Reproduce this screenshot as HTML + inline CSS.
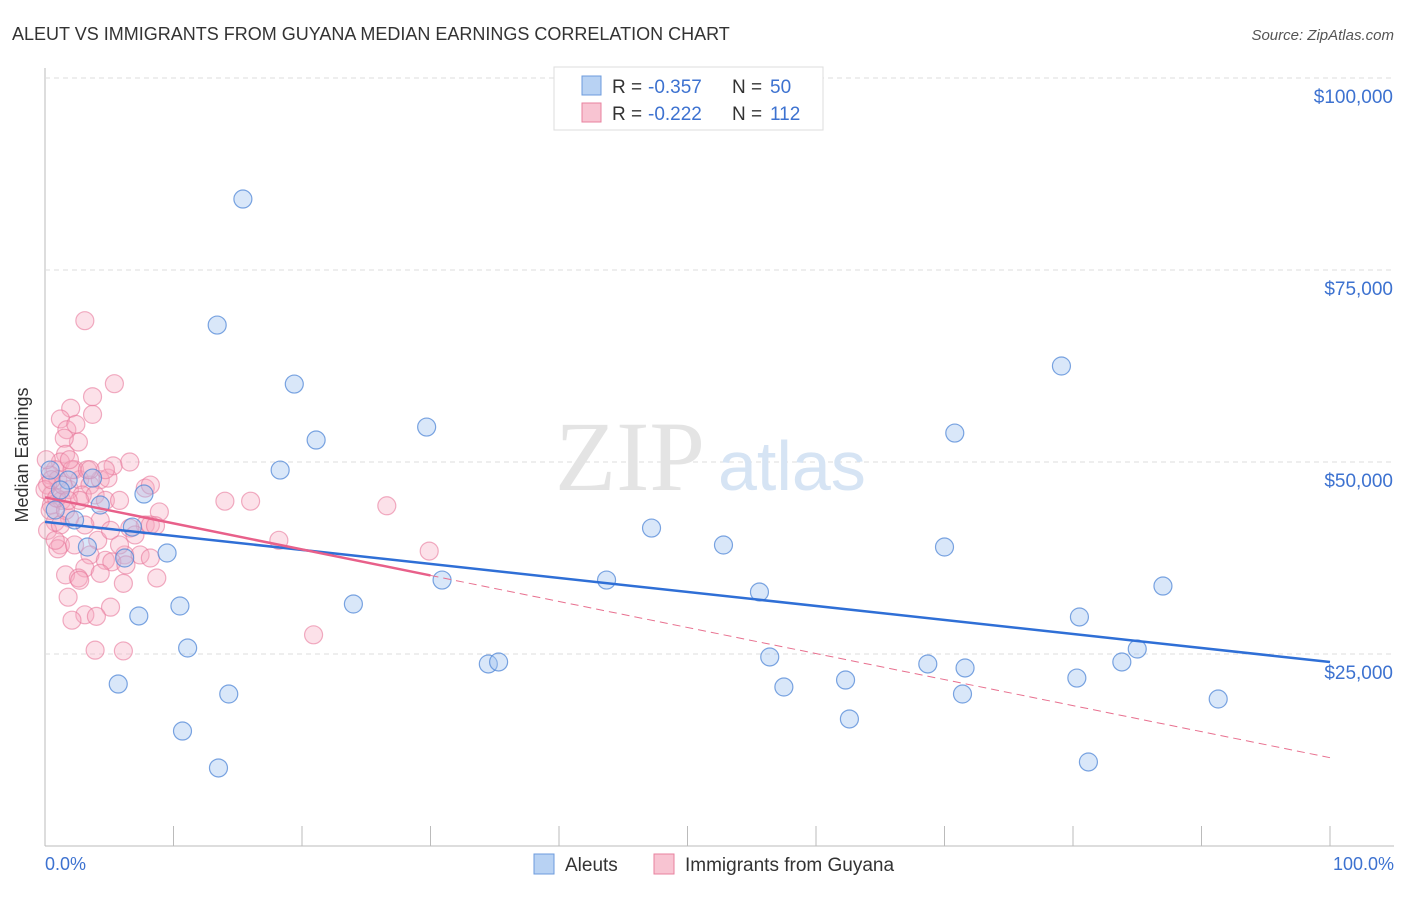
<!DOCTYPE html>
<html><head><meta charset="utf-8"><style>
body{margin:0;background:#fff;font-family:"Liberation Sans",sans-serif}
</style></head><body>
<svg width="1406" height="892" xmlns="http://www.w3.org/2000/svg">
<text x="12" y="40" font-size="18" fill="#333">ALEUT VS IMMIGRANTS FROM GUYANA MEDIAN EARNINGS CORRELATION CHART</text>
<text x="1394" y="40" font-size="15" fill="#555" text-anchor="end" font-style="italic">Source: ZipAtlas.com</text>
<g id="grid"></g>
<text x="555" y="490" font-size="100" fill="#e4e4e4" font-family="Liberation Serif">ZIP</text>
<text x="718" y="490" font-size="70" fill="#d6e4f4">atlas</text>
<g id="pts"></g>
<g id="lines"></g>
<text x="28" y="455" font-size="18" fill="#333" transform="rotate(-90 28 455)" text-anchor="middle">Median Earnings</text>
<text x="45" y="870" font-size="18" fill="#3d72d0">0.0%</text>
<text x="1394" y="870" font-size="18" fill="#3d72d0" text-anchor="end">100.0%</text>
<g>
<rect x="554" y="67" width="269" height="63" fill="#fff" stroke="#ddd"/>
<rect x="582" y="76" width="19" height="19" fill="#b8d2f3" stroke="#6c9bdc"/>
<rect x="582" y="103" width="19" height="19" fill="#f8c4d2" stroke="#e8829f"/>
<text x="612" y="93" font-size="19" fill="#333">R =</text>
<text x="648" y="93" font-size="19" fill="#3d72d0">-0.357</text>
<text x="732" y="93" font-size="19" fill="#333">N =</text>
<text x="770" y="93" font-size="19" fill="#3d72d0">50</text>
<text x="612" y="120" font-size="19" fill="#333">R =</text>
<text x="648" y="120" font-size="19" fill="#3d72d0">-0.222</text>
<text x="732" y="120" font-size="19" fill="#333">N =</text>
<text x="770" y="120" font-size="19" fill="#3d72d0">112</text>
</g>
<g>
<rect x="534" y="854" width="20" height="20" fill="#b8d2f3" stroke="#6c9bdc"/>
<text x="565" y="871" font-size="19" fill="#333">Aleuts</text>
<rect x="654" y="854" width="20" height="20" fill="#f8c4d2" stroke="#e8829f"/>
<text x="685" y="871" font-size="19" fill="#333">Immigrants from Guyana</text>
</g>
</svg>
<script>
const yTicks=[25000,50000,75000,100000];
const yTickLabels=["$25,000","$50,000","$75,000","$100,000"];
const aleutX=[15.4,13.4,19.4,21.1,29.7,18.3,7.7,3.7,1.8,6.8,9.5,6.2,3.3,7.3,10.5,11.1,5.7,14.3,10.7,13.5,24.0,30.9,34.5,35.3,47.2,52.8,43.7,55.6,56.4,57.5,62.3,62.6,68.7,71.6,71.4,70.0,70.8,79.1,80.5,80.3,81.2,83.8,85.0,87.0,91.3,0.8,1.2,2.3,0.4,4.3];
const aleutY=[84240,67830,60150,52860,54550,48950,45830,47910,47650,41530,38150,37500,38930,29950,31250,25780,21090,19790,14970,10160,31510,34630,23700,23960,41400,39190,34630,33070,24610,20700,21610,16540,23700,23180,19790,38930,53770,62500,29820,21870,10940,23960,25650,33850,19140,43750,46350,42450,48950,44400];
const guyX=[3.1,5.4,3.7,3.7,2.0,1.2,1.7,2.4,2.6,1.5,1.6,1.2,2.3,0.8,0.4,1.0,0.2,0.5,1.3,1.9,2.7,3.5,4.3,4.9,5.3,6.6,4.7,2.9,3.9,4.7,5.8,7.8,8.2,8.9,7.8,6.6,4.3,3.1,1.9,0.8,0.2,1.2,1.0,2.3,4.1,3.5,4.7,6.2,7.4,8.2,8.6,14.0,16.0,26.6,18.2,29.9,5.2,3.1,1.6,2.6,4.3,6.3,8.2,8.7,6.1,2.7,1.8,5.1,3.1,4.0,2.1,20.9,3.9,6.1,0.5,0.0,0.4,0.1,1.6,2.1,0.9,3.3,1.2,1.4,5.1,5.8,7.0,0.8,2.7,3.5,1.9,0.5,1.8];
const guyY=[68.4,60.2,58.5,56.2,57.0,55.6,54.2,54.9,52.6,53.1,51.0,50.0,49.0,49.0,48.3,47.7,47.0,45.7,45.0,46.4,47.7,47.0,47.7,47.9,49.5,50.0,49.0,45.7,45.7,45.0,45.0,46.6,47.0,43.5,41.8,41.4,42.4,41.8,42.7,42.2,41.1,39.2,38.7,39.2,39.8,37.9,37.2,37.9,37.9,41.8,41.7,44.9,44.9,44.3,39.8,38.4,37.0,36.2,35.3,34.9,35.5,36.6,37.5,34.9,34.2,34.6,32.4,31.1,30.1,29.9,29.4,27.5,25.5,25.4,44.4,46.4,43.7,50.3,43.7,49.0,45.3,49.0,41.8,47.0,41.1,39.2,40.5,39.8,45.0,49.0,50.3,47.7,45.0].map(v=>v*1000);
const aleutTrend=[42200,23960];
const guyTrend=[45400,11500];
const guySolidEnd=30;
const NS="http://www.w3.org/2000/svg";
const sx=p=>45+p*12.85, sy=v=>846-v/25000*192;
function mk(t,a,parent){const e=document.createElementNS(NS,t);for(const k in a)e.setAttribute(k,a[k]);parent.appendChild(e);return e;}
const grid=document.getElementById('grid');
const ax=mk('line',{x1:45,y1:68,x2:45,y2:846,stroke:'#bbb'},grid);


const bx=mk('line',{x1:45,y1:846,x2:1394,y2:846,stroke:'#bbb'},grid);


for(let i=1;i<=10;i++){const t=mk('line',{x1:sx(i*10),y1:826,x2:sx(i*10),y2:846,stroke:'#bbb'},grid);

}
yTicks.forEach((v,i)=>{const g=mk('line',{x1:45,y1:sy(v),x2:1394,y2:sy(v),stroke:'#ddd','stroke-dasharray':'5,4'},grid);


const t=mk('text',{x:1393,y:sy(v)+25,'font-size':19,fill:'#3d72d0','text-anchor':'end'},grid);t.textContent=yTickLabels[i];

});
const pts=document.getElementById('pts');
guyX.forEach((x,i)=>{const c=mk('circle',{cx:sx(x),cy:sy(guyY[i]),r:9,fill:'rgba(245,170,192,0.35)',stroke:'rgba(232,120,155,0.6)','stroke-width':1.2},pts);

});
aleutX.forEach((x,i)=>{const c=mk('circle',{cx:sx(x),cy:sy(aleutY[i]),r:9,fill:'rgba(160,195,240,0.4)',stroke:'rgba(80,135,215,0.75)','stroke-width':1.2},pts);

});
const L=document.getElementById('lines');
const gv=p=>guyTrend[0]+(guyTrend[1]-guyTrend[0])*p/100;
const l1=mk('line',{x1:sx(0),y1:sy(aleutTrend[0]),x2:sx(100),y2:sy(aleutTrend[1]),stroke:'#2f6fd6','stroke-width':2.5},L);


const l2=mk('line',{x1:sx(0),y1:sy(gv(0)),x2:sx(guySolidEnd),y2:sy(gv(guySolidEnd)),stroke:'#e8608a','stroke-width':2.5},L);


const l3=mk('line',{x1:sx(guySolidEnd),y1:sy(gv(guySolidEnd)),x2:sx(100),y2:sy(gv(100)),stroke:'#e8708f','stroke-width':1,'stroke-dasharray':'8,5'},L);


</script>
</body></html>
